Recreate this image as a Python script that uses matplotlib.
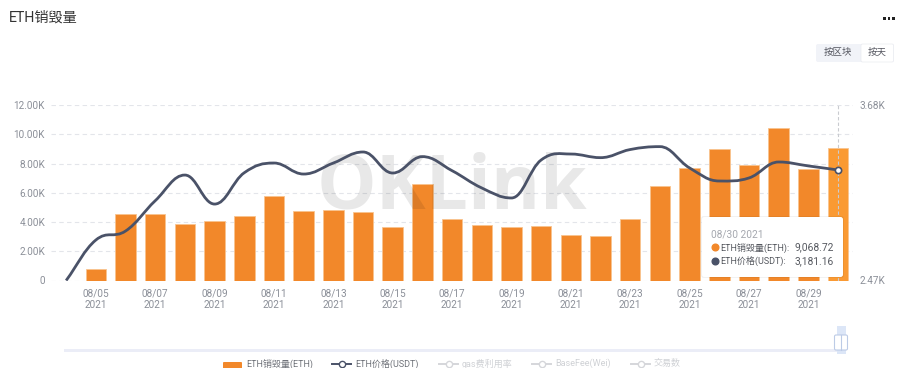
import numpy as np
import matplotlib
matplotlib.use('Agg')
import matplotlib.pyplot as plt
from matplotlib.patches import FancyBboxPatch, PathPatch, Rectangle
from matplotlib.path import Path

plt.rcParams['font.family'] = ['Roboto', 'Noto Sans CJK SC', 'DejaVu Sans']

# -----------------------------
# DATA
# -----------------------------
dates = ['08/04', '08/05', '08/06', '08/07', '08/08', '08/09', '08/10', '08/11', '08/12',
         '08/13', '08/14', '08/15', '08/16', '08/17', '08/18', '08/19', '08/20', '08/21',
         '08/22', '08/23', '08/24', '08/25', '08/26', '08/27', '08/28', '08/29', '08/30']
burned = [0, 790, 4550, 4570, 3870, 4090, 4430, 5760, 4770,
          4840, 4700, 3680, 6600, 4200, 3820, 3640, 3750, 3130,
          3020, 4220, 6460, 7710, 8990, 7900, 10430, 7650, 9068.72]
price = [2470, 2749, 2811, 3020, 3197, 2997, 3213, 3280, 3204,
         3280, 3356, 3211, 3324, 3227, 3108, 3039, 3301, 3342,
         3317, 3373, 3393, 3246, 3156, 3177, 3287, 3260, 3232]
left_ticks = [0, 2000, 4000, 6000, 8000, 10000, 12000]
left_labels = ['0', '2.00K', '4.00K', '6.00K', '8.00K', '10.00K', '12.00K']
right_ticks = [2470, 3680]
right_labels = ['2.47K', '3.68K']
legend_names = ['ETH销毁量(ETH)', 'ETH价格(USDT)', 'gas费利用率', 'BaseFee(Wei)', '交易数']

ORANGE = '#F2882A'
LINE = '#4A5268'
GREY = '#8B8F98'

W, H = 899, 368
x = np.arange(len(dates))

fig = plt.figure(figsize=(W / 100, H / 100), dpi=100)
ax = fig.add_axes([51.3 / W, 1 - 280.5 / H, 801.6 / W, 175.5 / H])

# bars, the last one is hovered
colors = [ORANGE] * (len(x) - 1) + ['#FA9A33']
ax.bar(x, burned, width=0.69, color=colors, edgecolor='#F9C48F', linewidth=0.6, zorder=2)
ax.set_xlim(-0.5, len(x) - 0.5)
ax.set_ylim(0, 12000)
ax.grid(axis='y', color='#E3E5EA', linestyle=(0, (4, 3)), linewidth=0.8, zorder=0)
ax.set_axisbelow(True)
ax.set_yticks(left_ticks, left_labels)
ax.set_xticks(x[1::2], [d + '\n2021' for d in dates[1::2]])
ax.tick_params(length=0, labelsize=7.2, labelcolor=GREY)
ax.tick_params(axis='y', pad=4.5)
ax.tick_params(axis='x', pad=6)
for s in ax.spines.values():
    s.set_visible(False)
for t in ax.get_xticklabels():
    t.set_linespacing(1.2)

ax.text(0.5, 0.52, 'OKLink', transform=ax.transAxes, ha='center', va='center',
        fontsize=54, fontweight='bold', family='Open Sans', color='black', alpha=0.09, zorder=3)

# price on the right axis, smooth line through the daily values
ax2 = ax.twinx()
ax2.set_ylim(2470, 3680)
ax2.set_yticks(right_ticks, right_labels)
ax2.tick_params(length=0, labelsize=7.2, labelcolor=GREY, pad=4.5)
for s in ax2.spines.values():
    s.set_visible(False)

px = np.array(x, dtype=float)
py = np.array(price, dtype=float)
dy = np.gradient(py, px)
# flat tangents at the peaks and dips
diff = np.diff(py)
dy[1:-1][diff[:-1] * diff[1:] < 0] = 0
verts = [(px[0], py[0])]
codes = [Path.MOVETO]
for i in range(len(px) - 1):
    verts += [(px[i] + 0.4, py[i] + dy[i] * 0.4),
              (px[i + 1] - 0.4, py[i + 1] - dy[i + 1] * 0.4),
              (px[i + 1], py[i + 1])]
    codes += [Path.CURVE4, Path.CURVE4, Path.CURVE4]
ax2.add_patch(PathPatch(Path(verts, codes), facecolor='none', edgecolor=LINE, linewidth=2, zorder=4))

# crosshair and hover marker
ax2.axvline(x[-1], color='#C9CBD0', linestyle=(0, (3, 2)), linewidth=0.8, zorder=3)
ax2.plot(x[-1], price[-1], 'o', markersize=4.5, markerfacecolor='white',
         markeredgecolor=LINE, markeredgewidth=1.2, zorder=5)

# -----------------------------
# PAGE PARTS, in pixel coordinates
# -----------------------------
ov = fig.add_axes([0, 0, 1, 1])
ov.set_xlim(0, W)
ov.set_ylim(H, 0)
ov.axis('off')
ov.patch.set_alpha(0)

ov.text(9, 17.5, 'ETH销毁量', fontsize=10.2, color='#333333', va='center')
for dot_x in [884.5, 889, 893.5]:
    ov.add_patch(Rectangle((dot_x - 1.4, 16.8), 2.8, 2.8, color='#222222', lw=0))

# buttons
ov.add_patch(FancyBboxPatch((816, 44), 78, 18, boxstyle='round,pad=0,rounding_size=2',
                            fc='#F1F3F8', ec='none'))
ov.add_patch(FancyBboxPatch((861, 44), 32.5, 18, boxstyle='round,pad=0,rounding_size=1.5',
                            fc='white', ec='#E9EBF0', lw=0.5))
ov.text(838, 52.5, '按区块', fontsize=6.8, color='#555760', ha='center', va='center')
ov.text(877, 52.5, '按天', fontsize=6.8, color='#555760', ha='center', va='center')

# tooltip
ov.add_patch(FancyBboxPatch((701, 216), 143, 62, boxstyle='round,pad=0,rounding_size=2.5',
                            fc='#000000', ec='none', alpha=0.05))
ov.add_patch(FancyBboxPatch((702, 217), 141, 60, boxstyle='round,pad=0,rounding_size=2.5',
                            fc='white', ec='none'))
ov.text(711, 234, '08/30 2021', fontsize=7.3, color='#A5A8AF', va='center')
ov.plot(714.5, 247, 'o', color=ORANGE, markersize=4.8)
ov.plot(714.5, 260.5, 'o', color=LINE, markersize=4.8)
ov.text(720.5, 247.5, 'ETH销毁量(ETH):', fontsize=6.5, color='#55585F', va='center')
ov.text(720.5, 261, 'ETH价格(USDT):', fontsize=6.5, color='#55585F', va='center')
ov.text(834, 247.5, '9,068.72', fontsize=7.4, color='#55585F', va='center', ha='right')
ov.text(834, 261, '3,181.16', fontsize=7.4, color='#55585F', va='center', ha='right')

# data zoom
ov.add_patch(Rectangle((64, 349), 776, 3, fc='#EBEDF7', ec='none'))
ov.add_patch(Rectangle((836.5, 326), 9, 28, fc='#DCE6F7', ec='none'))
ov.add_patch(FancyBboxPatch((834.5, 335), 13, 15, boxstyle='round,pad=0,rounding_size=1.5',
                            fc='white', ec='#BCCBE6', lw=0.8))
ov.plot([841, 841], [335, 350], color='#BCCBE6', lw=0.8)

# legend, cut by the bottom of the picture
ov.add_patch(FancyBboxPatch((223, 362), 19, 10, boxstyle='round,pad=0,rounding_size=1',
                            fc=ORANGE, ec='none', clip_on=True))
ov.text(246, 363.5, legend_names[0], fontsize=6.5, color='#6F7279', va='center')
items = [(332, 355, legend_names[1], LINE, '#6F7279'),
         (439, 462, legend_names[2], '#D5D6DA', '#CFD1D5'),
         (532, 555, legend_names[3], '#D5D6DA', '#CFD1D5'),
         (631, 654, legend_names[4], '#D5D6DA', '#CFD1D5')]
for lx, tx, name, col, tcol in items:
    ov.plot([lx, lx + 19], [364, 364], color=col, lw=1.4)
    ov.plot(lx + 9.5, 364, 'o', markersize=4.5, markerfacecolor='white', markeredgecolor=col, markeredgewidth=1)
    ov.text(tx, 363.5, name, fontsize=6.5, color=tcol, va='center')

fig.savefig('out.png', dpi=100)
